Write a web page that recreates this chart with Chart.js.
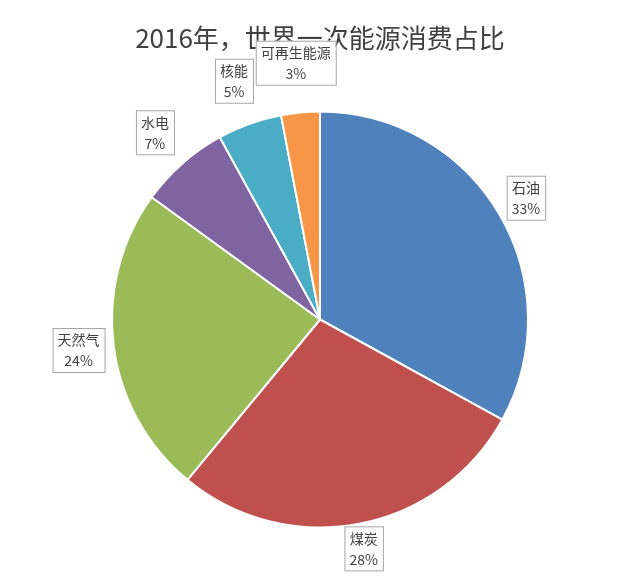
<!DOCTYPE html>
<html><head><meta charset="utf-8">
<script src="https://cdn.jsdelivr.net/npm/chart.js@4"></script>
<style>html,body{margin:0;background:#fff}#w{width:640px;height:584px}</style>
</head><body><div id="w"><canvas id="c"></canvas></div>
<script>
const categories=['石油','煤炭','天然气','水电','核能','可再生能源'];
const values=[33,28,24,7,5,3];
const colors=['#4F81BD','#C0504D','#9BBB59','#8064A2','#4BACC6','#F79646'];
const titleText='2016年，世界一次能源消费占比';
const labelDist=[1.15,1.12,1.17,1.2,1.22,1.24];
const F='"Noto Sans CJK SC", sans-serif';
const lab={id:'lab',afterDraw(ch){
 const c=ch.ctx;c.save();
 c.fillStyle='#404040';c.font='26px '+F;c.textAlign='center';c.textBaseline='middle';
 c.fillText(titleText,320,38);
 const meta=ch.getDatasetMeta(0);
 meta.data.forEach((a,i)=>{
  const m=(a.startAngle+a.endAngle)/2,r=a.outerRadius*labelDist[i];
  const x=a.x+Math.cos(m)*r,y=a.y+Math.sin(m)*r;
  c.font='14px '+F;
  const t1=categories[i],t2=values[i]+'%';
  const w=Math.max(c.measureText(t1).width,c.measureText(t2).width)+10,h=44;
  c.fillStyle='#fff';c.strokeStyle='#A6A6A6';c.lineWidth=1;
  c.fillRect(x-w/2,y-h/2,w,h);c.strokeRect(x-w/2+.5,y-h/2+.5,w,h);
  c.fillStyle='#404040';c.fillText(t1,x,y-10);c.fillText(t2,x,y+11);
 });
 c.restore();}};
new Chart(document.getElementById('c'),{type:'pie',
 data:{labels:categories,datasets:[{data:values,backgroundColor:colors,borderColor:'#fff',borderWidth:2}]},
 options:{responsive:true,maintainAspectRatio:false,animation:false,
  layout:{padding:{top:109,bottom:54,left:111,right:111}},
  plugins:{legend:{display:false},tooltip:{enabled:false}}},
 plugins:[lab]});
</script></body></html>
